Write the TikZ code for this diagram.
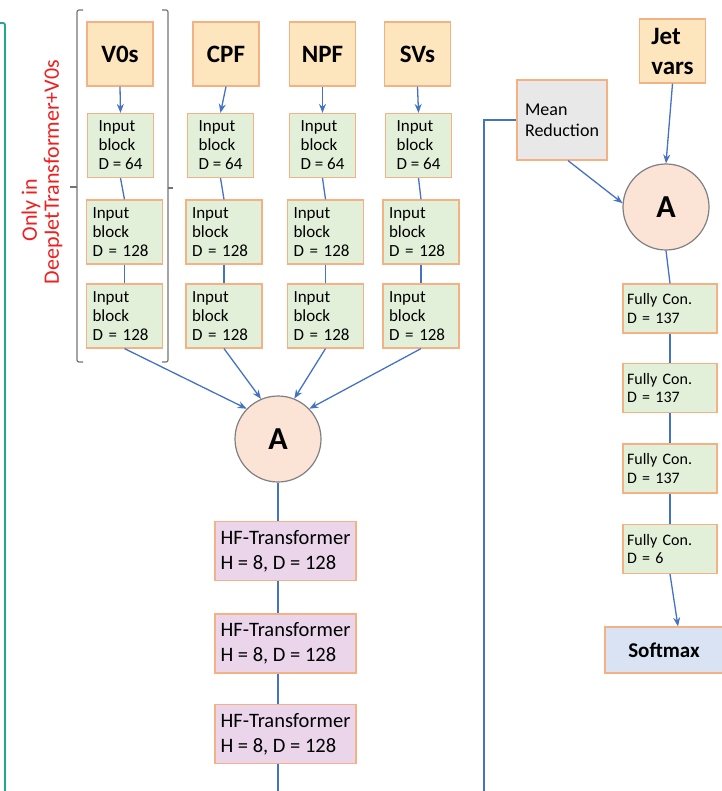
\documentclass[tikz,border=0pt]{standalone}
\usepackage{fontspec}
\setmainfont{Carlito}
\usetikzlibrary{arrows.meta}

\definecolor{boxline}{HTML}{F4B183}
\definecolor{inputfill}{HTML}{FDE6BE}
\definecolor{blockfill}{HTML}{E2F0D9}
\definecolor{hffill}{HTML}{EAD5EB}
\definecolor{aggfill}{HTML}{FBE3D5}
\definecolor{meanfill}{HTML}{E8E8E8}
\definecolor{softfill}{HTML}{DAE3F3}
\definecolor{linkblue}{HTML}{4472C4}
\definecolor{framegreen}{HTML}{22A88C}
\definecolor{notered}{HTML}{F01E1E}

\begin{document}
\begin{tikzpicture}[x=1pt, y=-1pt, >={Stealth[length=9pt,width=7pt]},
  inbox/.style={draw=boxline, fill=inputfill, line width=1.2pt, inner sep=0pt,
    minimum width=66pt, minimum height=64pt, font=\fontsize{25}{30}\selectfont\bfseries, align=left},
  blk/.style={draw=boxline, fill=blockfill, line width=1.2pt, inner sep=0pt,
    minimum width=66pt, minimum height=64pt, font=\fontsize{17}{19}\selectfont, align=left},
  wideblk/.style={blk, inner xsep=6pt, text width=64pt},
  fcon/.style={blk, inner xsep=4pt, text width=86pt, minimum height=49pt, font=\fontsize{16}{18.5}\selectfont},
  hf/.style={draw=boxline, fill=hffill, line width=1.2pt, inner sep=0pt,
    minimum width=141pt, minimum height=59pt, font=\fontsize{20.5}{25}\selectfont, align=left},
  agg/.style={circle, draw=gray, fill=aggfill, line width=1.2pt, minimum size=86pt, inner sep=0pt,
    font=\fontsize{32}{36}\selectfont\bfseries},
  note/.style={text=notered, font=\fontsize{22}{26}\selectfont, inner sep=0pt},
  link/.style={draw=linkblue, line width=1.3pt},
  brk/.style={draw=gray!90!black, line width=1.2pt, rounded corners=2pt},
]
\useasboundingbox (0,0) rectangle (721,791);

% Green frame on the left
\draw[framegreen, line width=1.8pt, rounded corners=2pt] (0,23) -- (5,23) -- (5,800);

% Note on the V0s branch
\node[note, rotate=90] (only) at (31,210) {Only in};
\node[note, rotate=90] (deepjet) at (53,172) {DeepJetTransformer+V0s};

% Brackets round the V0s branch
\draw[brk] (83,10) -- (77,10) -- (77,362) -- (83,362);
\draw[brk] (77,187) -- (70,187);
\draw[brk] (162,10) -- (168,10) -- (168,362) -- (162,362);
\draw[brk] (168,188) -- (173,188);

% Aggregation of the four branches
\node[agg] (a1) at (278,439) {A};

% Four input branches
\foreach \n/\xt/\xa/\xb/\lab/\ang in {v0s/120/120.5/124.5/V0s/136, cpf/226/220.5/224/CPF/113,
    npf/322.5/322.5/325.5/NPF/68, svs/417.5/418.5/421/SVs/44}
{
    \node[inbox] (\n) at (\xt,54) {\lab};
    \node[blk] (\n64) at (\xa,145.5) {Input\\block\\D = 64};
    \node[wideblk] (\n128a) at (\xb,232) {Input\\block\\D = 128};
    \node[wideblk] (\n128b) at (\xb,316) {Input\\block\\D = 128};
    \draw[link, ->] (\n.south) -- (\n64.north);
    \draw[link] (\n64.south) -- (\n128a.north);
    \draw[link] (\n128a.south) -- (\n128b.north);
    \draw[link, ->] (\n128b.south) -- (a1.\ang);
}

% Transformer stack
\node[hf] (hf1) at (285.5,551) {HF-Transformer\\H = 8, D = 128};
\node[hf] (hf2) at (285.5,643.5) {HF-Transformer\\H = 8, D = 128};
\node[hf] (hf3) at (285.5,734) {HF-Transformer\\H = 8, D = 128};
\coordinate (hfend) at (278,800);

\draw[link] (a1.south) -- (a1.south |- hf1.north);
\draw[link] (a1.south |- hf1.south) -- (a1.south |- hf2.north);
\draw[link] (a1.south |- hf2.south) -- (a1.south |- hf3.north);
\draw[link] (a1.south |- hf3.south) -- (hfend);

% Right part: jet level
\node[inbox] (jet) at (672.5,51) {Jet\\vars};
\node[draw=boxline, fill=meanfill, line width=1.2pt, minimum width=90pt, minimum height=80pt,
    inner sep=0pt, align=left, font=\fontsize{18}{21}\selectfont] (mean) at (562,120) {Mean\\Reduction};
\node[agg] (a2) at (666,207) {A};
\coordinate (meanend) at (484,800);

\node[fcon] (fc1) at (670,308.5) {Fully Con.\\D = 137};
\node[fcon] (fc2) at (670,388) {Fully Con.\\D = 137};
\node[fcon] (fc3) at (670,468.5) {Fully Con.\\D = 137};
\node[fcon] (fc4) at (670,549) {Fully Con.\\D = 6};
\node[draw=boxline, fill=softfill, line width=1.2pt, minimum width=118pt, minimum height=46pt,
    font=\fontsize{21}{25}\selectfont\bfseries] (soft) at (664,650) {Softmax};

\draw[link] (mean.west) -| (meanend);
\draw[link, ->] ([xshift=6pt]mean.south) -- (a2.175);
\draw[link, ->] (jet.south) -- (a2.north);
\draw[link] (a2.south) -- (fc1.north);
\draw[link] (fc1.south) -- (fc2.north);
\draw[link] (fc2.south) -- (fc3.north);
\draw[link] (fc3.south) -- (fc4.north);
\draw[link, ->] (fc4.south) -- ([xshift=14pt]soft.north);

\end{tikzpicture}
\end{document}
